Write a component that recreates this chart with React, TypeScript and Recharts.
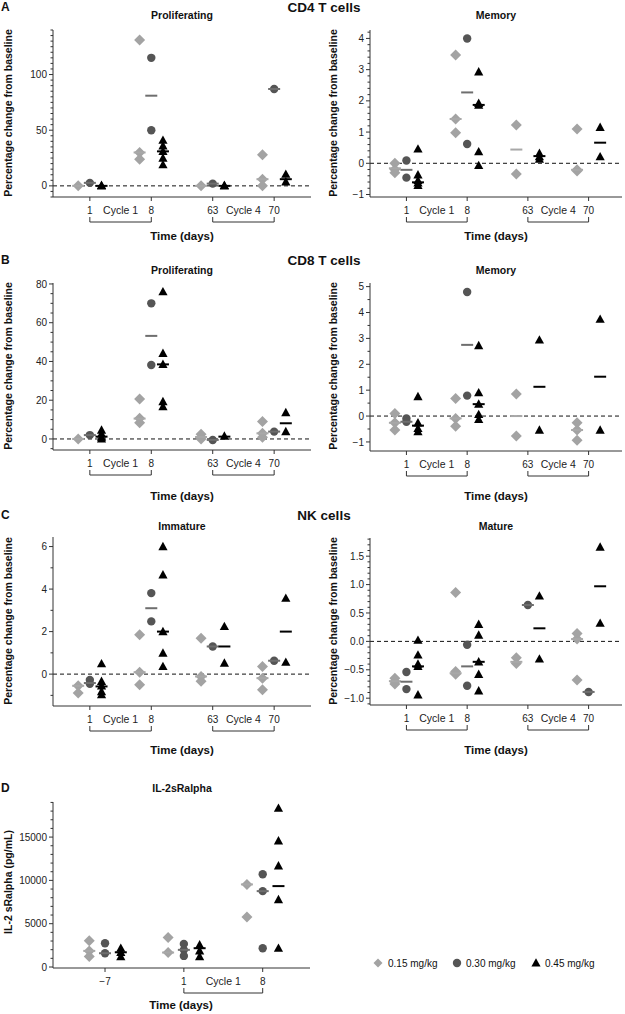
import React from 'react';
import { ScatterChart, Scatter, XAxis, YAxis, ReferenceLine, Surface } from 'recharts';

const FONT = '"Liberation Sans", Arial, Helvetica, sans-serif';
const AXIS = '#333333';
const LOW = '#a3a3a3';
const MID = '#555555';
const HIGH = '#000000';
const LOW_LINE = '#a8a8a8';
const MID_LINE = '#6e6e6e';

const doseLabels = ['0.15 mg/kg', '0.30 mg/kg', '0.45 mg/kg'];
const cycleDays = ['1', '8', '63', '70'];
const il2Days = ['\u22127', '1', '8'];

// one inner list per day (1, 8, 63, 70)
const cd4ProlLow = [[0], [131, 30, 24], [0], [28, 6, 0]];
const cd4ProlMid = [[2.7], [115, 50], [2], [87]];
const cd4ProlHigh = [[0, 0.5], [41, 36, 31, 25, 19], [0, 0.5], [10.5, 3.6]];
const cd4ProlMedLow = [0, 30, 0, 6];
const cd4ProlMedMid = [2.7, 81, 2, 87];
const cd4ProlMedHigh = [0, 31, 0, 6];

const cd4MemLow = [[0, -0.2, -0.3], [3.47, 1.42, 0.98], [1.23, -0.34], [1.1, -0.21, -0.25]];
const cd4MemMid = [[0.09, -0.46], [4.0, 0.62], [], []];
const cd4MemHigh = [[0.46, -0.37, -0.55, -0.63, -0.71], [2.93, 1.92, 1.86, 0.37, -0.07], [0.32, 0.21, 0.13], [1.15, 0.21]];
const cd4MemMedLow = [-0.16, 1.42, 0.44, -0.21];
const cd4MemMedMid = [-0.21, 2.27, null, null];
const cd4MemMedHigh = [-0.61, 1.87, 0.23, 0.66];

const cd8ProlLow = [[0], [20.6, 10.7, 8.4], [2.4, 0], [9, 2.9, 0.9]];
const cd8ProlMid = [[2], [70, 38.2], [-0.5], [3.8]];
const cd8ProlHigh = [[4.6, 2.6, 0.9, 0], [76, 44.2, 38.5, 19.3, 16.7], [1.5], [13.6, 3.8]];
const cd8ProlMedLow = [0, 10.5, 1, 2.9];
const cd8ProlMedMid = [2, 53.2, -0.5, 3.8];
const cd8ProlMedHigh = [1.2, 38.5, 1.2, 8.1];

const cd8MemLow = [[0.1, -0.26, -0.54], [0.68, -0.09, -0.39], [0.85, -0.77], [-0.26, -0.54, -0.93]];
const cd8MemMid = [[-0.09, -0.22], [4.79, 0.79], [], []];
const cd8MemHigh = [[0.75, -0.26, -0.48, -0.6], [2.72, 0.9, 0.46, 0.06, -0.13], [2.94, -0.54], [3.74, -0.54]];
const cd8MemMedLow = [-0.26, -0.09, 0, -0.54];
const cd8MemMedMid = [-0.22, 2.75, null, null];
const cd8MemMedHigh = [-0.37, 0.46, 1.13, 1.52];

const nkImmLow = [[-0.55, -0.89], [1.85, 0.09, -0.5], [1.69, -0.11, -0.34], [0.36, -0.19, -0.74]];
const nkImmMid = [[-0.27, -0.45], [3.81, 2.48], [1.3], [0.63]];
const nkImmHigh = [[0.49, -0.34, -0.55, -0.82, -0.97], [6.0, 4.67, 2.0, 0.99, 0.36], [2.24, 0.52], [3.57, 0.56]];
const nkImmMedLow = [-0.55, 0.09, -0.11, -0.19];
const nkImmMedMid = [-0.42, 3.1, 1.3, 0.63];
const nkImmMedHigh = [-0.58, 2.0, 1.3, 2.0];

const nkMatLow = [[-0.65, -0.71, -0.75], [0.86, -0.53, -0.58], [-0.29, -0.39], [0.14, 0.04, -0.68]];
const nkMatMid = [[-0.54, -0.84], [-0.06, -0.78], [0.64], [-0.89]];
const nkMatHigh = [[0.02, -0.24, -0.4, -0.44, -0.94], [0.3, 0.11, -0.36, -0.58, -0.87], [0.8, -0.31], [1.66, 0.32]];
const nkMatMedLow = [-0.7, -0.56, -0.36, 0.04];
const nkMatMedMid = [-0.71, -0.44, 0.64, -0.89];
const nkMatMedHigh = [-0.44, -0.36, 0.23, 0.97];

// days -7, 1, 8
const il2Low = [[3020, 1860, 1200], [3410, 1670], [9535, 5775]];
const il2Mid = [[2750, 1590], [2670, 1980, 1280], [10700, 8760, 2170]];
const il2High = [[2170, 1700, 1200], [2560, 1860, 1200], [18330, 14570, 11670, 7790, 2170]];
const il2MedLow = [1860, 1670, 9535];
const il2MedMid = [1590, 1980, 8760];
const il2MedHigh = [1700, 2170, 9340];

const Diamond = (p: any) => (
  <polygon points={`${p.cx},${p.cy - 5.5} ${p.cx + 5.5},${p.cy} ${p.cx},${p.cy + 5.5} ${p.cx - 5.5},${p.cy}`} fill={LOW} />
);
const Dot = (p: any) => <circle cx={p.cx} cy={p.cy} r={4.2} fill={MID} />;
const Tri = (p: any) => (
  <polygon points={`${p.cx},${p.cy - 4.8} ${p.cx + 4.6},${p.cy + 3.6} ${p.cx - 4.6},${p.cy + 3.6}`} fill={HIGH} />
);
const medianShape = (color: string) => (p: any) => (
  <line x1={p.cx - 6} x2={p.cx + 6} y1={p.cy} y2={p.cy} stroke={color} strokeWidth={2} />
);

const YTick = (props: any) => {
  const { x, y, payload, majors, fmt } = props;
  const major = majors.some((m: number) => Math.abs(m - payload.value) < 1e-6);
  return (
    <g>
      <line x1={x - (major ? 4 : 2.5)} x2={x} y1={y} y2={y} stroke={AXIS} />
      {major && (
        <text x={x - 6} y={y} dy={3.6} textAnchor="end" fontSize={10} fill="#222" fontFamily={FONT}>
          {fmt(payload.value)}
        </text>
      )}
    </g>
  );
};

const XTick = (props: any) => {
  const { x, y, payload, days, brackets, step } = props;
  const i = Math.round(payload.value);
  const b = brackets.find((r: any) => r.from === i);
  const w = b ? step * (b.to - b.from) : 0;
  return (
    <g>
      <line x1={x} x2={x} y1={y} y2={y + 4} stroke={AXIS} />
      <text x={x} y={y + 17} textAnchor="middle" fontSize={10} fill="#222" fontFamily={FONT}>
        {days[i]}
      </text>
      {b && (
        <g>
          <path d={`M${x},${y + 20} V${y + 25} H${x + w} V${y + 20}`} fill="none" stroke={AXIS} />
          <text x={x + w / 2} y={y + 17} textAnchor="middle" fontSize={10.5} fill="#222" fontFamily={FONT}>
            {b.label}
          </text>
        </g>
      )}
    </g>
  );
};

const minus = (s: string) => s.replace('-', '\u2212');
const fmtInt = (v: number) => minus(String(Math.round(v)));
const fmtOne = (v: number) => minus(v.toFixed(1));

type PanelProps = {
  x0: number; x1: number; y0: number; y1: number;
  xDomain: [number, number]; yDomain: [number, number];
  majors: number[]; minorStep: number; fmt: (v: number) => string;
  days: string[]; brackets: { from: number; to: number; label: string }[];
  low: number[][]; mid: number[][]; high: number[][];
  medLow: (number | null)[]; medMid: (number | null)[]; medHigh: (number | null)[];
  spread: number; zeroLine: boolean;
};

function Panel(p: PanelProps) {
  const left = p.x0 - 60;
  const top = p.y0 - 6;
  const width = p.x1 - left + 4;
  const height = p.y1 - top + 34;
  const step = (p.x1 - p.x0) / (p.xDomain[1] - p.xDomain[0]);
  const ticks: number[] = [];
  const first = Math.ceil(p.yDomain[0] / p.minorStep - 1e-9);
  const last = Math.floor(p.yDomain[1] / p.minorStep + 1e-9);
  for (let k = first; k <= last; k++) ticks.push(+(k * p.minorStep).toFixed(6));

  const offsets = [-p.spread, 0, p.spread];
  const pts = (vals: number[][], d: number) =>
    vals.flatMap((list, g) => list.map((v) => ({ x: g + offsets[d], y: v })));
  const meds = (vals: (number | null)[], d: number) =>
    vals.flatMap((v, g) => (v === null ? [] : [{ x: g + offsets[d], y: v }]));

  return (
    <div style={{ position: 'absolute', left, top }}>
      <ScatterChart width={width} height={height} margin={{ top: 6, right: 4, bottom: 0, left: 0 }}>
        <XAxis
          type="number" dataKey="x" domain={p.xDomain} allowDataOverflow ticks={p.days.map((_, i) => i)}
          interval={0} height={34} tickSize={0} tickMargin={0} tickLine={false}
          axisLine={{ stroke: AXIS }}
          tick={<XTick days={p.days} brackets={p.brackets} step={step} />}
        />
        <YAxis
          type="number" dataKey="y" domain={p.yDomain} allowDataOverflow ticks={ticks}
          interval={0} width={60} tickSize={0} tickMargin={0} tickLine={false}
          axisLine={{ stroke: AXIS }}
          tick={<YTick majors={p.majors} fmt={p.fmt} />}
        />
        {p.zeroLine && <ReferenceLine y={0} stroke="#111" strokeDasharray="4 3" />}
        <Scatter data={pts(p.low, 0)} shape={Diamond} isAnimationActive={false} />
        <Scatter data={pts(p.mid, 1)} shape={Dot} isAnimationActive={false} />
        <Scatter data={pts(p.high, 2)} shape={Tri} isAnimationActive={false} />
        <Scatter data={meds(p.medLow, 0)} shape={medianShape(LOW_LINE)} isAnimationActive={false} />
        <Scatter data={meds(p.medMid, 1)} shape={medianShape(MID_LINE)} isAnimationActive={false} />
        <Scatter data={meds(p.medHigh, 2)} shape={medianShape(HIGH)} isAnimationActive={false} />
      </ScatterChart>
    </div>
  );
}

const cycleBrackets = [
  { from: 0, to: 1, label: 'Cycle 1' },
  { from: 2, to: 3, label: 'Cycle 4' },
];
const il2Brackets = [{ from: 1, to: 2, label: 'Cycle 1' }];

const Txt = ({ x, y, size, bold, anchor, children, rotate }: any) => (
  <text
    x={x} y={y} fontSize={size} fontWeight={bold ? 'bold' : 'normal'} textAnchor={anchor || 'middle'}
    fontFamily={FONT} fill="#111" transform={rotate ? `rotate(-90 ${x} ${y})` : undefined}
  >
    {children}
  </text>
);

const yLabel = 'Percentage change from baseline';

export default function App() {
  const L = { x0: 53, x1: 311, xDomain: [-0.6, 3.6] as [number, number] };
  const R = { x0: 370, x1: 622, xDomain: [-0.6, 3.55] as [number, number] };
  const common = { days: cycleDays, brackets: cycleBrackets, spread: 0.19, zeroLine: true };
  return (
    <div style={{ position: 'absolute', left: 0, top: 0, width: 625, height: 1014, background: '#fff', fontFamily: FONT }}>
      <Panel {...common} {...L} y0={30} y1={197} yDomain={[-10, 140]} majors={[0, 50, 100]} minorStep={5} fmt={fmtInt}
        low={cd4ProlLow} mid={cd4ProlMid} high={cd4ProlHigh} medLow={cd4ProlMedLow} medMid={cd4ProlMedMid} medHigh={cd4ProlMedHigh} />
      <Panel {...common} {...R} y0={30} y1={197} yDomain={[-1.08, 4.27]} majors={[-1, 0, 1, 2, 3, 4]} minorStep={0.2} fmt={fmtInt}
        low={cd4MemLow} mid={cd4MemMid} high={cd4MemHigh} medLow={cd4MemMedLow} medMid={cd4MemMedMid} medHigh={cd4MemMedHigh} />
      <Panel {...common} {...L} y0={283} y1={450} yDomain={[-5.7, 80.5]} majors={[0, 20, 40, 60, 80]} minorStep={5} fmt={fmtInt}
        low={cd8ProlLow} mid={cd8ProlMid} high={cd8ProlHigh} medLow={cd8ProlMedLow} medMid={cd8ProlMedMid} medHigh={cd8ProlMedHigh} />
      <Panel {...common} {...R} y0={283} y1={451} yDomain={[-1.35, 5.14]} majors={[-1, 0, 1, 2, 3, 4, 5]} minorStep={0.5} fmt={fmtInt}
        low={cd8MemLow} mid={cd8MemMid} high={cd8MemHigh} medLow={cd8MemMedLow} medMid={cd8MemMedMid} medHigh={cd8MemMedHigh} />
      <Panel {...common} {...L} y0={537} y1={706} yDomain={[-1.5, 6.45]} majors={[0, 2, 4, 6]} minorStep={1} fmt={fmtInt}
        low={nkImmLow} mid={nkImmMid} high={nkImmHigh} medLow={nkImmMedLow} medMid={nkImmMedMid} medHigh={nkImmMedHigh} />
      <Panel {...common} {...R} y0={538} y1={705} yDomain={[-1.12, 1.82]} majors={[-1, -0.5, 0, 0.5, 1, 1.5]} minorStep={0.1} fmt={fmtOne}
        low={nkMatLow} mid={nkMatMid} high={nkMatHigh} medLow={nkMatMedLow} medMid={nkMatMedMid} medHigh={nkMatMedHigh} />
      <Panel x0={53} x1={310} xDomain={[-0.66, 2.6]} y0={802} y1={968} yDomain={[-115, 19050]}
        majors={[0, 5000, 10000, 15000]} minorStep={1000} fmt={fmtInt}
        days={il2Days} brackets={il2Brackets} spread={0.2} zeroLine={false}
        low={il2Low} mid={il2Mid} high={il2High} medLow={il2MedLow} medMid={il2MedMid} medHigh={il2MedHigh} />

      <svg width={625} height={1014} style={{ position: 'absolute', left: 0, top: 0, pointerEvents: 'none' }}>
        <Txt x={1} y={11} size={12} bold anchor="start">A</Txt>
        <Txt x={324} y={12} size={13.5} bold>CD4 T cells</Txt>
        <Txt x={182} y={19} size={10.5} bold>Proliferating</Txt>
        <Txt x={496} y={19} size={10.5} bold>Memory</Txt>
        <Txt x={182} y={240} size={11.5} bold>Time (days)</Txt>
        <Txt x={496} y={240} size={11.5} bold>Time (days)</Txt>
        <Txt x={12} y={113} size={10.5} bold rotate>{yLabel}</Txt>
        <Txt x={337} y={113} size={10.5} bold rotate>{yLabel}</Txt>

        <Txt x={1} y={264} size={12} bold anchor="start">B</Txt>
        <Txt x={324} y={265} size={13.5} bold>CD8 T cells</Txt>
        <Txt x={182} y={274} size={10.5} bold>Proliferating</Txt>
        <Txt x={496} y={274} size={10.5} bold>Memory</Txt>
        <Txt x={182} y={500} size={11.5} bold>Time (days)</Txt>
        <Txt x={496} y={500} size={11.5} bold>Time (days)</Txt>
        <Txt x={12} y={366} size={10.5} bold rotate>{yLabel}</Txt>
        <Txt x={337} y={366} size={10.5} bold rotate>{yLabel}</Txt>

        <Txt x={1} y={519} size={12} bold anchor="start">C</Txt>
        <Txt x={324} y={520} size={13.5} bold>NK cells</Txt>
        <Txt x={182} y={530} size={10.5} bold>Immature</Txt>
        <Txt x={496} y={530} size={10.5} bold>Mature</Txt>
        <Txt x={182} y={754} size={11.5} bold>Time (days)</Txt>
        <Txt x={496} y={754} size={11.5} bold>Time (days)</Txt>
        <Txt x={12} y={621} size={10.5} bold rotate>{yLabel}</Txt>
        <Txt x={337} y={621} size={10.5} bold rotate>{yLabel}</Txt>

        <Txt x={1} y={792} size={12} bold anchor="start">D</Txt>
        <Txt x={182} y={792} size={10.5} bold>IL-2sRalpha</Txt>
        <Txt x={181} y={1009} size={11.5} bold>Time (days)</Txt>
        <Txt x={12} y={882} size={10.5} bold rotate>IL-2 sRalpha (pg/mL)</Txt>
      </svg>

      <div style={{ position: 'absolute', left: 372, top: 956 }}>
        <Surface width={240} height={14} viewBox={{ x: 0, y: 0, width: 240, height: 14 }}>
          <polygon points="6,2.5 10.5,7 6,11.5 1.5,7" fill={LOW} />
          <text x={16} y={11} fontSize={10} fontFamily={FONT} fill="#111">{doseLabels[0]}</text>
          <Dot cx={85} cy={7} />
          <text x={94} y={11} fontSize={10} fontFamily={FONT} fill="#111">{doseLabels[1]}</text>
          <Tri cx={164} cy={7} />
          <text x={173} y={11} fontSize={10} fontFamily={FONT} fill="#111">{doseLabels[2]}</text>
        </Surface>
      </div>
    </div>
  );
}
